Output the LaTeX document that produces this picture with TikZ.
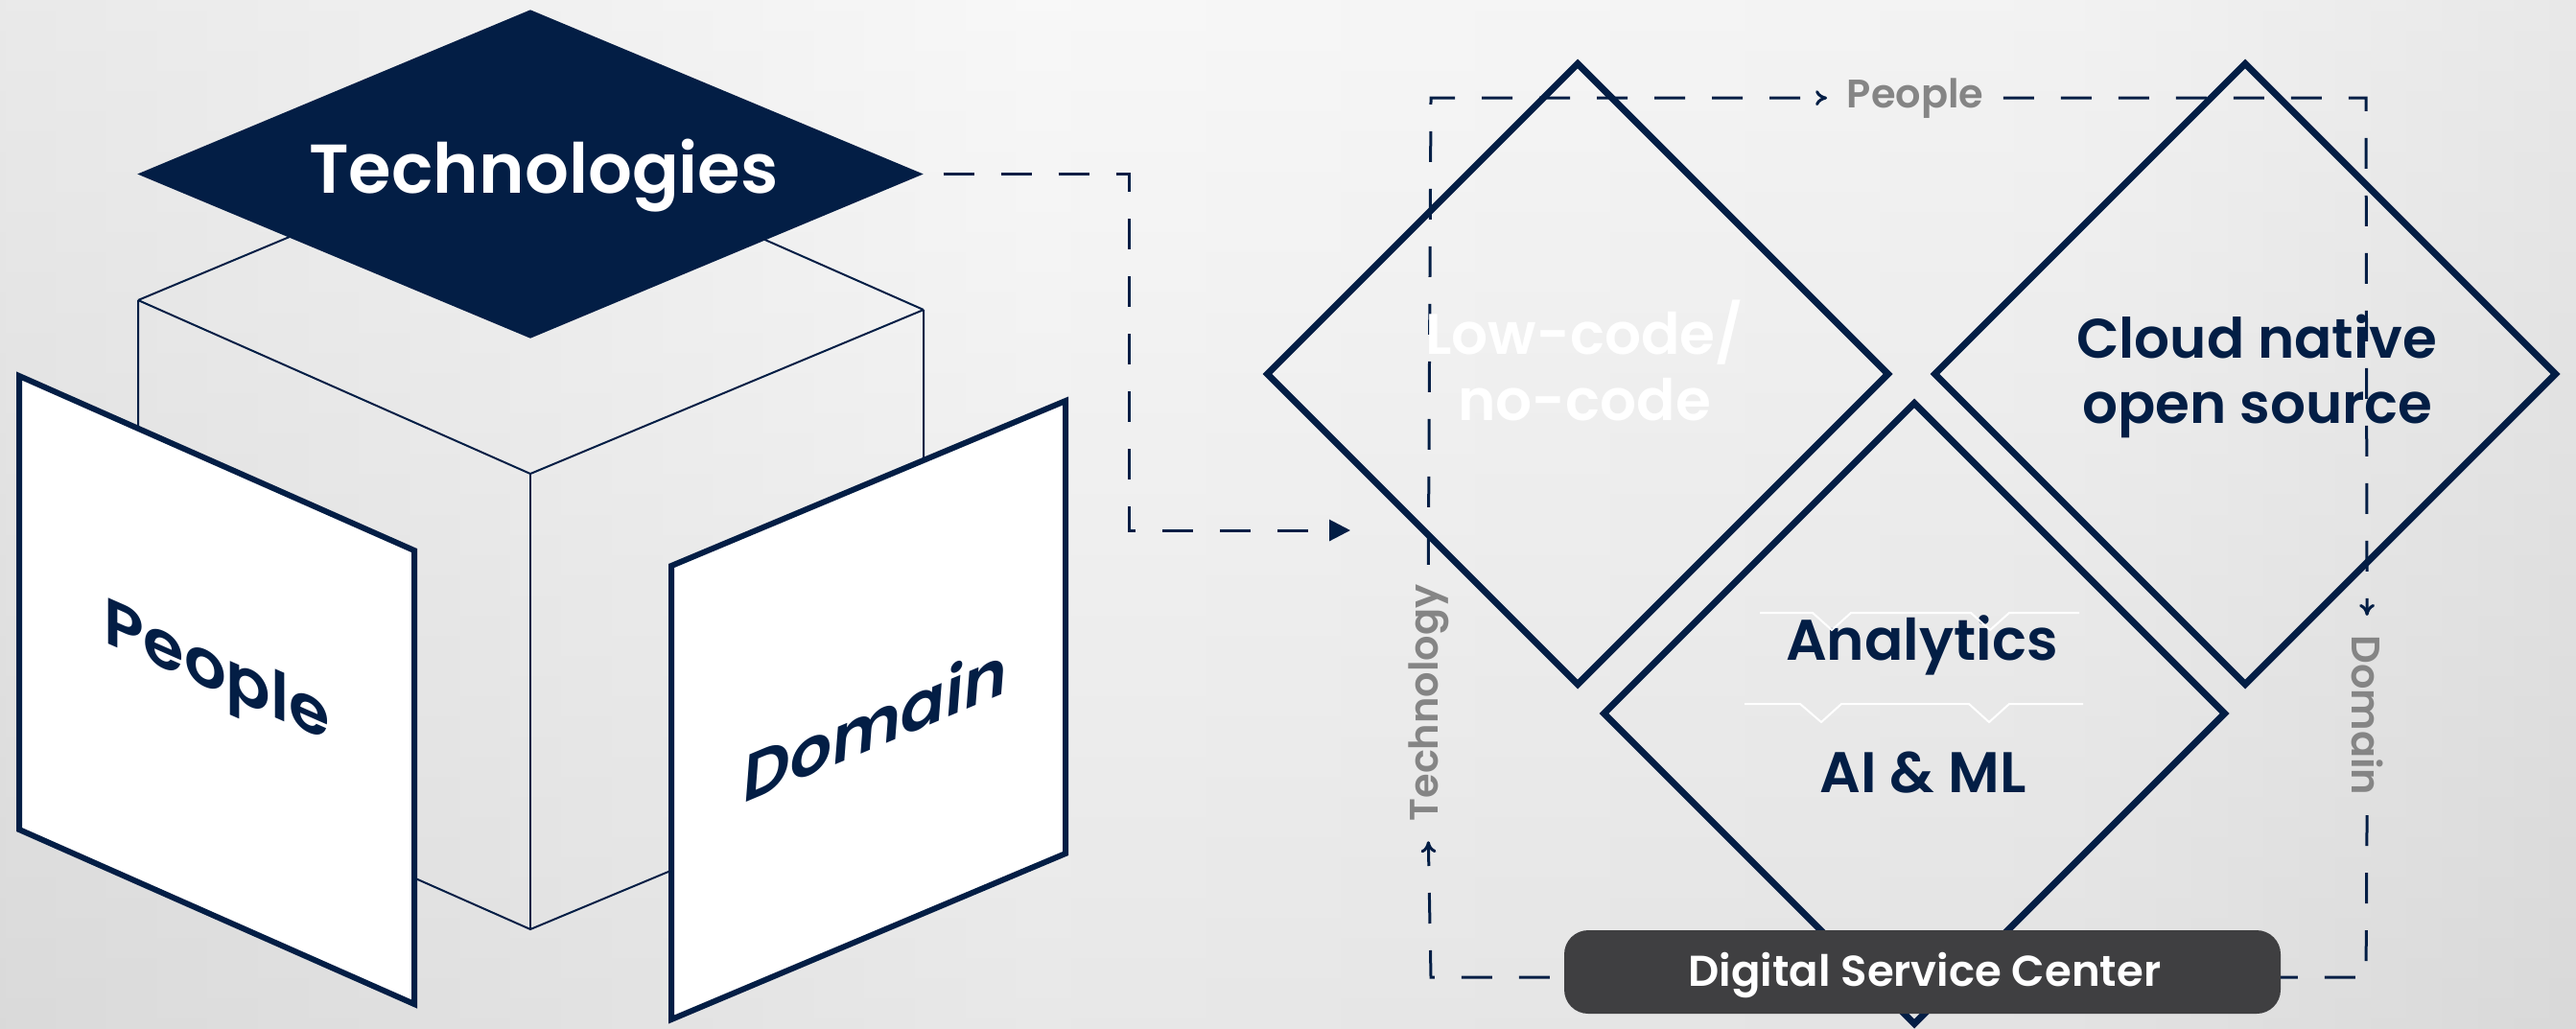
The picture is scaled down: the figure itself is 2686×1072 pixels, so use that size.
\documentclass[tikz,border=0pt]{standalone}
\usepackage{fontspec}
\setmainfont{Poppins}
\newfontfamily\semib{Poppins SemiBold}
\usetikzlibrary{shapes.geometric, arrows.meta, fadings}
\definecolor{navy}{HTML}{031E45}
\definecolor{lblgray}{HTML}{858585}
\definecolor{boxgray}{HTML}{3F3F41}
\pgfdeclarehorizontalshading{bgh}{100bp}{rgb(0bp)=(0.75,0.75,0.75); rgb(20bp)=(0.86,0.86,0.86); rgb(45bp)=(0.96,0.96,0.96); rgb(65bp)=(0.93,0.93,0.93); rgb(88bp)=(0.80,0.80,0.80); rgb(100bp)=(0.72,0.72,0.72)}
\tikzfading[name=band, top color=transparent!100, middle color=transparent!0, bottom color=transparent!100]
\tikzset{
  cubeline/.style={draw=navy, line width=0.2mm},
  panel/.style={draw=navy, fill=white, line width=0.6mm, line join=miter},
  sqd/.style={diamond, draw=navy, line width=0.7mm, minimum width=65mm, minimum height=65mm, inner sep=0pt, aspect=1},
  dashln/.style={draw=navy, line width=0.3mm, dash pattern=on 3.2mm off 2.8mm},
  smalltip/.style={-{To[length=1.2mm, width=1.6mm]}},
  conn/.style={draw=navy, line width=0.3mm, dash pattern=on 3.2mm off 2.8mm, -{Triangle[length=2.2mm, width=2.2mm]}},
  zig/.style={draw=white, line width=0.2mm},
  bigtxt/.style={font=\semib\fontsize{17pt}{20pt}\selectfont, anchor=base, inner sep=0pt},
  paneltxt/.style={font=\semib\fontsize{19.5pt}{22pt}\selectfont, text=navy},
  sidelbl/.style={font=\semib\fontsize{11.8pt}{14pt}\selectfont, text=lblgray, anchor=base, inner xsep=2mm, inner ysep=0pt},
}
\begin{document}
\begin{tikzpicture}[x=0.1mm, y=-0.1mm]
% background
\useasboundingbox (0,0) rectangle (2686,1072);
\shade[shading=bgh] (0,0) rectangle (2686,1072);
\shade[top color=white, bottom color=gray!40, opacity=0.3] (0,0) rectangle (2686,1072);
\fill[white, path fading=band, opacity=0.55] (0,700) rectangle (2686,880);

% ---------- cube ----------
\draw[cubeline] (144,313) -- (553,142) -- (963,323);
\draw[cubeline] (144,313) -- (553,494) -- (963,323);
\draw[cubeline] (144,313) -- (144,788) -- (553,969) -- (963,798) -- (963,323);
\draw[cubeline] (553,494) -- (553,969);

% top diamond
\node[diamond, fill=navy, minimum width=82mm, minimum height=34.3mm, inner sep=0pt, aspect=2.39] (tech) at (553,181.5) {};
\node[font=\semib\fontsize{20.5pt}{24pt}\selectfont, text=white, anchor=base, inner sep=0pt] (techT) at (567,201) {Technologies};

% panels
\draw[panel] (20,392) -- (432,574) -- (432,1047) -- (20,865) -- cycle;
\draw[panel] (700,590) -- (1111,418) -- (1111,890) -- (700,1063) -- cycle;
\node[paneltxt, yslant=-0.44] (peopleT) at (226,705) {People};
\node[paneltxt, yslant=0.42, xslant=0.08] (domainT) at (913,753) {Domain};

% connector
\coordinate (cturn) at (1177,553);
\coordinate (arrowend) at (1408,553);
\draw[conn] ([xshift=2mm]tech.east) -| (cturn) -- (arrowend);

% ---------- right part ----------
\coordinate (TL) at (1492,102);
\coordinate (TR) at (2467,102);
\coordinate (BR) at (2467,1019);
\coordinate (BL) at (1492,1019);
\node[sidelbl] (pplL) at (1997,112) {People};
\node[sidelbl, rotate=90] (techL) at (1499,733) {Technology};
\node[sidelbl, rotate=-90] (domL) at (2452,746) {Domain};
\draw[dashln, smalltip] (techL.east) -- (TL) -- (pplL.west);
\draw[dashln, smalltip] (pplL.east) -- (TR) -- (domL.west);
\draw[dashln, smalltip] (domL.east) -- (BR) -- (BL) -- (techL.west);

% diamonds
\node[sqd] (low) at (1645,390) {};
\node[sqd] (cloud) at (2341,390) {};
\node[sqd] (ana) at (1996,744) {};

\node[bigtxt, text=white] (low1) at (1652,369) {Low-code/};
\node[bigtxt, text=white] (low2) at (1652,438) {no-code};
\node[bigtxt, text=navy, font=\semib\fontsize{16.5pt}{20pt}\selectfont] (cloud1) at (2353,373) {Cloud native};
\node[bigtxt, text=navy, font=\semib\fontsize{16.5pt}{20pt}\selectfont] (cloud2) at (2354,441) {open source};
\node[bigtxt, text=navy] (anaT) at (2004,688) {Analytics};
\node[bigtxt, text=navy] (aiT) at (2005,826) {AI \& ML};

% white zigzag lines
\draw[zig] (1835,639) -- (1890,639) -- (1910,657) -- (1930,639) -- (2055,639) -- (2075,657) -- (2095,639) -- (2168,639);
\draw[zig] (1819,734) -- (1877,734) -- (1899,753) -- (1920,734) -- (2053,734) -- (2074,753) -- (2095,734) -- (2172,734);

% Digital Service Center
\node[fill=boxgray, rounded corners=2.5mm, minimum width=74.7mm, minimum height=8.7mm, inner sep=0pt] (dsc) at (2004.5,1013.5) {};
\node[font=\semib\fontsize{12.8pt}{15pt}\selectfont, text=white, anchor=base, inner sep=0pt] (dscT) at (2007,1028) {Digital Service Center};
\end{tikzpicture}
\end{document}
